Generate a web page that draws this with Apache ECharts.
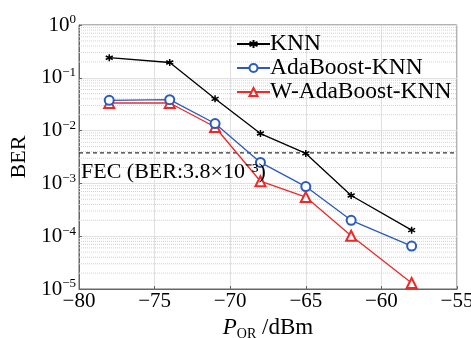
<!DOCTYPE html>
<html><head><meta charset="utf-8">
<script src="https://cdn.jsdelivr.net/npm/echarts@6/dist/echarts.min.js"></script>
<style>html,body{margin:0;padding:0;background:#fff}#c{width:471px;height:338px}</style>
</head><body><div id="c"></div>
<script>
const xValues = [-78, -74, -71, -68, -65, -62, -58];
const knn = [0.24, 0.195, 0.040, 0.0088, 0.0037, 0.00059, 0.00013];
const adaKnn = [0.0374, 0.0385, 0.0136, 0.0025, 0.00087, 0.00020, 0.000065];
const wAdaKnn = [0.0333, 0.0333, 0.0117, 0.0011, 0.00055, 0.000102, 0.000013];
const seriesNames = ['KNN', 'AdaBoost-KNN', 'W-AdaBoost-KNN'];
const fecLevel = 3.8e-3;
const fecText = 'FEC (BER:3.8×10\u207B\u00B3)';
const xRange = [-80, -55];
const yDecades = [-5, -4, -3, -2, -1, 0];
const minorMult = [2, 3, 4, 5, 6, 7, 8, 9];

const FONT = 'Liberation Serif';
const minorData = [];
yDecades.slice(0, -1).forEach(e => minorMult.forEach(m => {
  const v = m * Math.pow(10, e);
  minorData.push([xRange[0], v], [xRange[1], v], [xRange[1], '-']);
}));

const pair = arr => xValues.map((x, i) => [x, arr[i]]);
const minus = v => v < 0 ? '\u2212' + (-v) : String(v);
const asterisk = 'path://M0,-10L0,10M-8.66,-5L8.66,5M-8.66,5L8.66,-5';

const chart = echarts.init(document.getElementById('c'), null, { renderer: 'canvas' });
chart.setOption({
  animation: false,
  backgroundColor: '#fff',
  textStyle: { fontFamily: FONT },
  grid: { left: 79, right: 14, top: 25, bottom: 49, show: true, borderColor: '#666', borderWidth: 1, containLabel: false, outerBoundsMode: 'none' },
  title: {
    text: fecText, left: 79, top: 161, padding: [0, 0, 0, 2], z: 10,
    textStyle: { fontFamily: FONT, fontSize: 22, color: '#000', fontWeight: 'normal' }
  },
  legend: {
    data: seriesNames,
    left: 231, top: 27, orient: 'vertical', itemGap: 0,
    itemWidth: 33, itemHeight: 10,
    textStyle: { fontFamily: FONT, fontSize: 23.5, lineHeight: 23, color: '#000', padding: [0, 0, 0, -5] },
    backgroundColor: 'rgba(255,255,255,0)'
  },
  xAxis: {
    type: 'value', min: xRange[0], max: xRange[1], interval: 5,
    axisLine: { show: true, lineStyle: { color: '#666' } },
    axisTick: { show: true, inside: true, length: 3, lineStyle: { color: '#666' } },
    axisLabel: { fontFamily: FONT, fontSize: 21, color: '#000', margin: 2, formatter: minus },
    splitLine: { show: true, lineStyle: { color: '#e0e0e0', width: 1 } },
    name: '{i|P}{sub|OR}{n| /dBm}', nameLocation: 'middle', nameGap: 26,
    nameTextStyle: {
      rich: {
        i: { fontFamily: FONT, fontSize: 23, fontStyle: 'italic', color: '#000' },
        sub: { fontFamily: FONT, fontSize: 14, color: '#000', verticalAlign: 'bottom', padding: [12, 0, 0, 0] },
        n: { fontFamily: FONT, fontSize: 23, color: '#000' }
      }
    }
  },
  yAxis: {
    type: 'log', logBase: 10, min: 1e-5, max: 1,
    axisLine: { show: true, lineStyle: { color: '#666' } },
    axisTick: { show: true, inside: true, length: 3, lineStyle: { color: '#666' } },
    axisLabel: {
      fontFamily: FONT, color: '#000', margin: 3,
      formatter: v => { const e = Math.round(Math.log10(v)); return '{b|10}{s|' + minus(e) + '}'; },
      rich: {
        b: { fontFamily: FONT, fontSize: 21, color: '#000' },
        s: { fontFamily: FONT, fontSize: 13, color: '#000', verticalAlign: 'top', padding: [0, 0, 10, 0] }
      }
    },
    splitLine: { show: true, lineStyle: { color: '#e0e0e0', width: 1 } },
    name: 'BER', nameLocation: 'middle', nameGap: 47, nameRotate: 90,
    nameTextStyle: { fontFamily: FONT, fontSize: 22, color: '#000' }
  },
  series: [
    {
      name: '_minor', type: 'line', data: minorData, z: 1, silent: true,
      symbol: 'none', connectNulls: false,
      lineStyle: { color: '#d2d2d2', type: [1, 1], width: 1 }
    },
    {
      name: '_fec', type: 'line', z: 2, silent: true,
      data: [[xRange[0], fecLevel], [xRange[1], fecLevel]],
      symbol: 'none',
      lineStyle: { color: '#333', type: [4, 3], width: 1.2 }
    },
    {
      name: seriesNames[0], type: 'line', data: pair(knn), z: 5,
      symbol: asterisk, symbolSize: 7,
      lineStyle: { color: '#000', width: 1.3 },
      itemStyle: { color: '#000', borderColor: '#000', borderWidth: 1.5 }
    },
    {
      name: seriesNames[1], type: 'line', data: pair(adaKnn), z: 4,
      symbol: 'emptyCircle', symbolSize: 9,
      lineStyle: { color: '#2b5bbf', width: 1.3 },
      itemStyle: { color: '#2b5bbf', borderColor: '#2b5bbf', borderWidth: 1.4 }
    },
    {
      name: seriesNames[2], type: 'line', data: pair(wAdaKnn), z: 3,
      symbol: 'emptyTriangle', symbolSize: 10,
      lineStyle: { color: '#f02828', width: 1.3 },
      itemStyle: { color: '#f02828', borderColor: '#f02828', borderWidth: 1.4 }
    }
  ]
});
</script></body></html>
